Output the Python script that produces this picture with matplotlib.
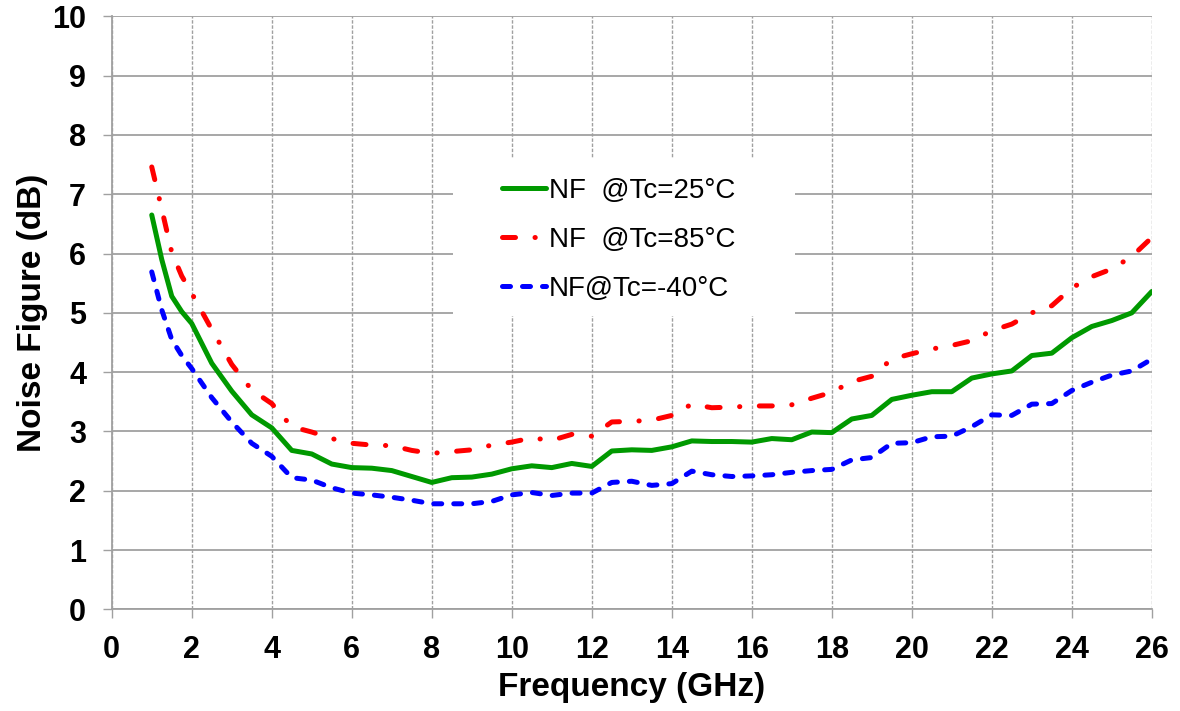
"""
    Noise figure vs frequency at three case temperatures
"""

import matplotlib
matplotlib.use("Agg")
import matplotlib.pyplot as plt
from matplotlib.patches import Rectangle

plt.rcParams['font.family'] = ['Liberation Sans', 'DejaVu Sans']

# frequency points (GHz)
freq = [1.0, 1.25, 1.5, 1.75, 2.0, 2.5, 3.0, 3.5, 4.0, 4.5, 5.0, 5.5, 6.0, 6.5,
        7.0, 7.5, 8.0, 8.5, 9.0, 9.5, 10.0, 10.5, 11.0, 11.5, 12.0, 12.5, 13.0,
        13.5, 14.0, 14.5, 15.0, 15.5, 16.0, 16.5, 17.0, 17.5, 18.0, 18.5, 19.0,
        19.5, 20.0, 20.5, 21.0, 21.5, 22.0, 22.5, 23.0, 23.5, 24.0, 24.5, 25.0,
        25.5, 26.0]

nf_25 = [6.65, 5.90, 5.28, 5.02, 4.82, 4.15, 3.68, 3.28, 3.06, 2.68, 2.62, 2.45,
         2.39, 2.38, 2.34, 2.24, 2.14, 2.22, 2.23, 2.28, 2.37, 2.42, 2.39, 2.46,
         2.41, 2.67, 2.69, 2.68, 2.74, 2.84, 2.83, 2.83, 2.82, 2.88, 2.86, 2.99,
         2.98, 3.21, 3.27, 3.54, 3.61, 3.67, 3.67, 3.90, 3.97, 4.02, 4.28, 4.32,
         4.58, 4.77, 4.87, 5.00, 5.36]

nf_85 = [7.46, 6.75, 6.02, 5.62, 5.33, 4.72, 4.13, 3.70, 3.47, 3.08, 2.99, 2.88,
         2.80, 2.77, 2.76, 2.68, 2.63, 2.66, 2.69, 2.77, 2.82, 2.89, 2.85, 2.95,
         2.92, 3.16, 3.17, 3.19, 3.27, 3.46, 3.40, 3.41, 3.43, 3.43, 3.45, 3.56,
         3.66, 3.84, 3.93, 4.22, 4.31, 4.39, 4.45, 4.53, 4.70, 4.81, 5.00, 5.12,
         5.42, 5.61, 5.74, 5.95, 6.27]

nf_m40 = [5.69, 5.05, 4.55, 4.28, 4.06, 3.57, 3.16, 2.80, 2.58, 2.22, 2.18, 2.05,
          1.96, 1.93, 1.89, 1.84, 1.78, 1.78, 1.78, 1.82, 1.93, 1.97, 1.92, 1.96,
          1.96, 2.14, 2.16, 2.09, 2.12, 2.33, 2.27, 2.24, 2.25, 2.27, 2.31, 2.34,
          2.36, 2.52, 2.56, 2.80, 2.81, 2.91, 2.92, 3.08, 3.28, 3.27, 3.46, 3.47,
          3.69, 3.83, 3.95, 4.02, 4.22]

labels = ["NF  @Tc=25°C", "NF  @Tc=85°C", "NF@Tc=-40°C"]
x_ticks = list(range(0, 27, 2))
y_ticks = list(range(0, 11))

grid_col = "#a0a0a0"

fig = plt.figure(figsize=(11.8, 7.11), dpi=100)
ax = fig.add_axes([0.0947, 0.143, 0.8814, 0.834])

lw = 3.6
ax.plot(freq, nf_25, color="#009900", lw=lw, ls='-', label=labels[0],
        solid_capstyle='round', solid_joinstyle='round', zorder=3)
ax.plot(freq, nf_85, color="#ff0000", lw=lw, dashes=(2.6, 3.9, 0.05, 3.9),
        dash_capstyle='round', dash_joinstyle='round', label=labels[1], zorder=3)
ax.plot(freq, nf_m40, color="#0000ff", lw=lw, dashes=(1.6, 2.4),
        dash_capstyle='round', dash_joinstyle='round', label=labels[2], zorder=3)

ax.set_xlim(0, 26)
ax.set_ylim(0, 10)
ax.set_xticks(x_ticks)
ax.set_yticks(y_ticks)

ax.set_axisbelow(True)
ax.grid(axis='y', color=grid_col, lw=1.3, ls='-')
ax.grid(axis='x', color=grid_col, lw=1.0, dashes=(2.5, 1.2))

for side in ["top", "right"]:
    ax.spines[side].set_visible(False)
for side in ["left", "bottom"]:
    ax.spines[side].set_color(grid_col)
    ax.spines[side].set_linewidth(1.3)

ax.tick_params(axis='both', direction='out', length=6.5, width=1.0,
               color=grid_col, labelsize=22, pad=12)
for t in ax.get_xticklabels() + ax.get_yticklabels():
    t.set_fontweight('bold')

ax.set_xlabel("Frequency (GHz)", fontsize=24, fontweight='bold', labelpad=5)
ax.set_ylabel("Noise Figure (dB)", fontsize=24, fontweight='bold', labelpad=3)

# white box behind the legend, hides the gridlines
ax.add_patch(Rectangle((0.328, 0.495), 0.329, 0.266, transform=ax.transAxes,
                       facecolor='white', edgecolor='none', zorder=1))

leg = ax.legend(loc='upper left', bbox_to_anchor=(0.375, 0.728), frameon=False,
                fontsize=20, handlelength=1.6, handletextpad=0.1,
                labelspacing=0.83, borderpad=0, borderaxespad=0)

plt.savefig("out.png", dpi=100)
